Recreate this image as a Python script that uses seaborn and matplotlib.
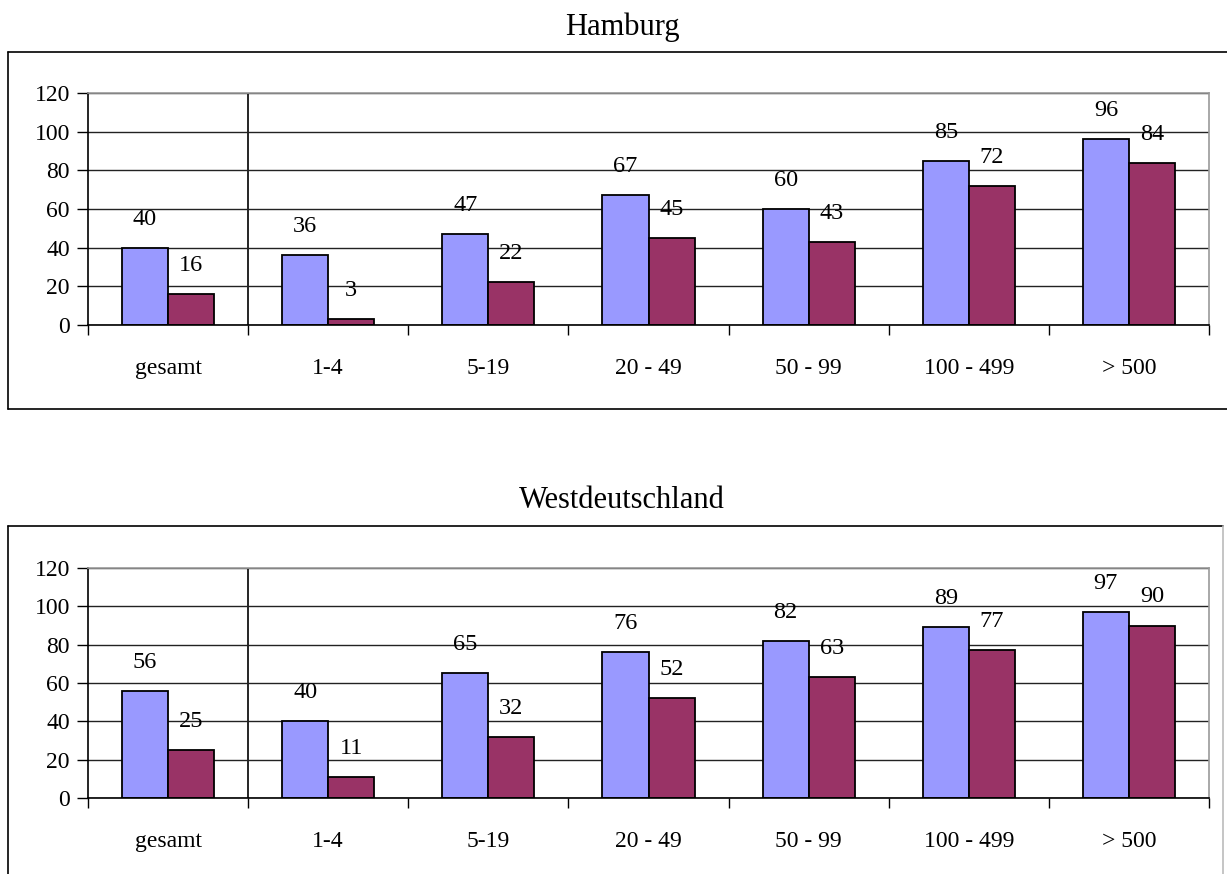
import matplotlib
matplotlib.use("Agg")
import matplotlib.pyplot as plt
import seaborn as sns
import pandas as pd
from matplotlib.lines import Line2D

categories = ["gesamt", "1-4", "5-19", "20 - 49", "50 - 99", "100 - 499", "> 500"]
series_names = ["Reihe 1", "Reihe 2"]
hamburg_1 = [40, 36, 47, 67, 60, 85, 96]
hamburg_2 = [16, 3, 22, 45, 43, 72, 84]
west_1 = [56, 40, 65, 76, 82, 89, 97]
west_2 = [25, 11, 32, 52, 63, 77, 90]
titles = ["Hamburg", "Westdeutschland"]
yticks = [0, 20, 40, 60, 80, 100, 120]
colors = ["#9999FF", "#993366"]

sns.set_theme(style="white")
plt.rcParams["font.family"] = ["Liberation Serif", "DejaVu Serif"]
plt.rcParams["font.size"] = 17
plt.rcParams["text.color"] = "black"
plt.rcParams["xtick.color"] = "black"
plt.rcParams["ytick.color"] = "black"
plt.rcParams["axes.labelcolor"] = "black"

W, H = 1227, 874
fig = plt.figure(figsize=(W / 100, H / 100), dpi=100)


def fx(px):
    return px / W


def fy(py):
    return 1 - py / H


def make_df(s1, s2):
    return pd.DataFrame({
        "cat": categories * 2,
        "val": s1 + s2,
        "series": [series_names[0]] * len(categories) + [series_names[1]] * len(categories),
    })


panels = [
    dict(data=(hamburg_1, hamburg_2), title=titles[0], ax_top=93, ax_bot=325,
         box=(8, 52, 1240, 409), title_y=27, box_right_visible=False),
    dict(data=(west_1, west_2), title=titles[1], ax_top=568, ax_bot=798,
         box=(8, 526, 1223, 890), title_y=500, box_right_visible=True),
]

for p in panels:
    # outer frame
    x0, y0, x1, y1 = p["box"]
    fig.add_artist(Line2D([fx(x0), fx(x1)], [fy(y0), fy(y0)], color="black", lw=1.2, transform=fig.transFigure))
    fig.add_artist(Line2D([fx(x0), fx(x0)], [fy(y0), fy(y1)], color="black", lw=1.2, transform=fig.transFigure))
    fig.add_artist(Line2D([fx(x0), fx(x1)], [fy(y1), fy(y1)], color="black", lw=1.2, transform=fig.transFigure))
    if p["box_right_visible"]:
        fig.add_artist(Line2D([fx(x1), fx(x1)], [fy(y0), fy(y1)], color="#bbbbbb", lw=1.2, transform=fig.transFigure))
    fig.text(fx(622), fy(p["title_y"]), p["title"], ha="center", va="center", fontsize=22, color="black")

    ax = fig.add_axes([fx(88), fy(p["ax_bot"]), fx(1209) - fx(88), fy(p["ax_top"]) - fy(p["ax_bot"])])
    df = make_df(*p["data"])
    sns.barplot(data=df, x="cat", y="val", hue="series", palette=colors, ax=ax,
                edgecolor="black", linewidth=1.3, width=0.575, gap=0, legend=False,
                saturation=1, errorbar=None)
    for cont in ax.containers:
        ax.bar_label(cont, padding=13, fontsize=17.5, color="black")

    ax.set_xlim(-0.5, 6.5)
    ax.set_ylim(0, 120)
    ax.set_yticks(yticks)
    ax.set_yticklabels([str(v) for v in yticks], fontsize=17)
    ax.set_xlabel("")
    ax.set_ylabel("")
    ax.yaxis.grid(True, color="#222222", lw=1)
    ax.set_axisbelow(True)
    ax.axvline(0.5, color="black", lw=1.2, zorder=0.5)

    # tick marks at category boundaries, labels at centers
    ax.set_xticks([i - 0.5 for i in range(len(categories) + 1)])
    ax.set_xticklabels([""] * (len(categories) + 1))
    ax.set_xticks(range(len(categories)), minor=True)
    ax.set_xticklabels(categories, minor=True, fontsize=17)
    ax.tick_params(axis="x", which="major", direction="out", length=7, width=1, color="black", bottom=True)
    ax.tick_params(axis="x", which="minor", length=0, pad=24, labelcolor="black")
    ax.tick_params(axis="y", direction="out", length=8, width=1, color="black", left=True, pad=5, labelcolor="black")

    for side in ["left", "bottom"]:
        ax.spines[side].set_color("black")
        ax.spines[side].set_linewidth(1.2)
    for side in ["top", "right"]:
        ax.spines[side].set_color("#999999")
        ax.spines[side].set_linewidth(1.2)

fig.savefig("out.png", dpi=100)
